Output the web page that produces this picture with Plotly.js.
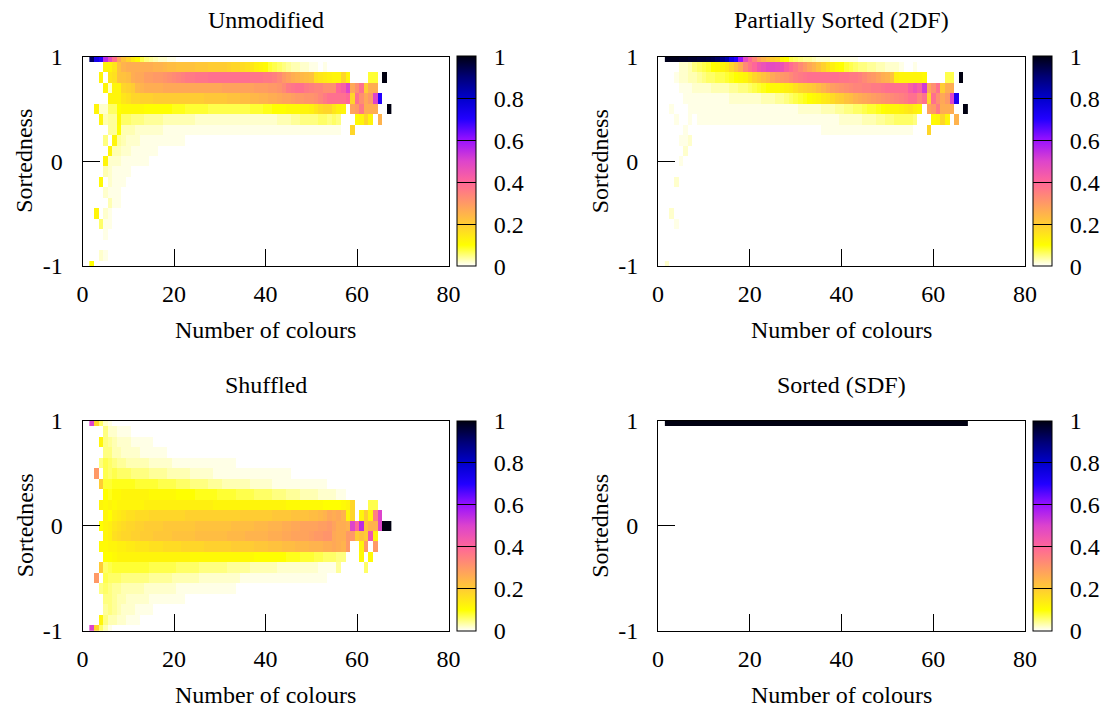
<!DOCTYPE html>
<html>
<head>
<meta charset="utf-8">
<script src="https://cdn.plot.ly/plotly-3.0.1.min.js"></script>
<style>
html,body{margin:0;padding:0;background:#fff;overflow:hidden;width:1111px;height:709px;}
#chart{width:1111px;height:709px;overflow:hidden;}
</style>
</head>
<body>
<div id="chart"></div>
<script>
// ---------------- data ----------------
const numColours = [2,3,4,5,6,7,8,9,10,11,12,13,14,15,16,17,18,19,20,21,22,23,24,25,26,27,28,29,30,31,32,33,34,35,36,37,38,39,40,41,42,43,44,45,46,47,48,49,50,51,52,53,54,55,56,57,58,59,60,61,62,63,64,65,66,67];
// rows listed from sortedness 1.0 (top) down to -1.0 (bottom)
const sortedness = [1.0,0.9,0.8,0.7,0.6,0.5,0.4,0.3,0.2,0.1,0.0,-0.1,-0.2,-0.3,-0.4,-0.5,-0.6,-0.7,-0.8,-0.9,-1.0];
const colourTicks = [0,20,40,60,80];
const sortTicks = [-1,0,1];
const cbTicks = [0,0.2,0.4,0.6,0.8,1];
const cbTickText = ['0','0.2','0.4','0.6','0.8','1'];
const panelTitles = ['Unmodified','Partially Sorted (2DF)','Shuffled','Sorted (SDF)'];
const xTitle = 'Number of colours';
const yTitle = 'Sortedness';

// fraction of runs (percent) per (number of colours, sortedness) bin
const unmodified = [
[92,74,70,55,47,38,28,22,18,14, 11,7,5,4,3,2,2,1,1,0, 0,0,0,0,0,0,0,0,0,0, 0,0,0,0,0,0,0,0,0,0, 0,0,0,0,0,0,0,0,0,0, 0,0,0,0,0,0,0,0,0,0, 0,0,0,0,0,0],
[0,0,0,12,12,15,22,25,26,26, 26,26,26,26,25,25,24,23,23,22, 22,22,22,21,21,21,20,20,20,20, 19,18,18,17,16,15,13,12,11,8, 7,6,5,4,3,3,2,2,1,1, 0,1,0,0,0,0,0,0,0,0, 0,0,0,0,0,0],
[0,0,12,0,15,16,22,22,23,26, 27,27,29,29,30,30,31,32,33,34, 35,36,36,37,37,37,38,38,38,38, 38,38,38,38,38,37,37,37,36,36, 35,33,30,28,26,25,24,23,22,16, 15,14,13,12,12,18,12,0,0,0, 0,8,8,0,100,0],
[0,0,0,12,2,12,12,18,19,20, 24,25,26,26,26,26,27,27,27,27, 27,27,27,27,27,27,27,27,27,28, 28,28,28,28,28,28,29,29,29,30, 30,31,33,36,37,38,38,36,35,34, 34,32,32,32,40,42,50,27,32,38, 20,26,26,0,0,0],
[0,0,0,0,12,12,12,15,16,18, 18,19,19,19,20,20,20,20,20,20, 20,20,20,20,20,21,21,21,21,21, 22,22,22,23,23,24,24,25,25,26, 26,27,28,28,29,30,30,31,31,32, 34,36,38,38,38,38,40,18,38,32, 27,30,50,70,0,0],
[0,12,2,2,6,6,10,11,11,11, 11,11,10,10,10,10,10,10,9,9, 9,8,8,8,8,8,7,7,7,7, 7,7,7,7,7,8,8,8,9,9, 10,10,10,11,11,11,12,12,13,15, 17,18,18,15,13,12,0,28,30,36, 26,26,26,0,0,100],
[0,0,12,3,4,4,11,6,6,5, 5,5,4,4,4,4,3,3,3,3, 3,3,3,2,2,2,2,2,2,2, 2,2,2,2,2,2,2,2,2,2, 2,3,3,3,4,4,5,5,5,5, 6,6,5,6,5,0,0,0,11,12, 18,12,0,25,0,0],
[0,0,0,0,4,4,10,3,3,3, 2,2,2,2,2,2,1,1,1,1, 1,1,1,1,1,1,1,1,1,1, 1,1,1,1,1,1,1,1,1,1, 1,1,1,1,1,1,1,1,1,1, 1,1,1,1,1,0,0,18,0,0, 0,0,0,0,0,0],
[0,0,0,5,0,12,4,3,2,2, 2,1,1,1,1,1,1,1,1,1, 1,0,0,0,0,0,0,0,0,0, 0,0,0,0,0,0,0,0,0,0, 0,0,0,0,0,0,0,0,0,0, 0,0,0,0,0,0,0,0,0,0, 0,0,0,0,0,0],
[0,0,0,0,12,3,3,2,2,1, 1,1,1,1,1,0,0,0,0,0, 0,0,0,0,0,0,0,0,0,0, 0,0,0,0,0,0,0,0,0,0, 0,0,0,0,0,0,0,0,0,0, 0,0,0,0,0,0,0,0,0,0, 0,0,0,0,0,0],
[0,0,0,12,2,2,2,1,1,1, 1,1,1,0,0,0,0,0,0,0, 0,0,0,0,0,0,0,0,0,0, 0,0,0,0,0,0,0,0,0,0, 0,0,0,0,0,0,0,0,0,0, 0,0,0,0,0,0,0,0,0,0, 0,0,0,0,0,0],
[0,0,0,3,2,1,1,1,1,0, 0,0,0,0,0,0,0,0,0,0, 0,0,0,0,0,0,0,0,0,0, 0,0,0,0,0,0,0,0,0,0, 0,0,0,0,0,0,0,0,0,0, 0,0,0,0,0,0,0,0,0,0, 0,0,0,0,0,0],
[0,0,11,0,2,1,1,1,0,0, 0,0,0,0,0,0,0,0,0,0, 0,0,0,0,0,0,0,0,0,0, 0,0,0,0,0,0,0,0,0,0, 0,0,0,0,0,0,0,0,0,0, 0,0,0,0,0,0,0,0,0,0, 0,0,0,0,0,0],
[0,0,0,2,1,1,1,0,0,0, 0,0,0,0,0,0,0,0,0,0, 0,0,0,0,0,0,0,0,0,0, 0,0,0,0,0,0,0,0,0,0, 0,0,0,0,0,0,0,0,0,0, 0,0,0,0,0,0,0,0,0,0, 0,0,0,0,0,0],
[0,0,0,0,3,1,1,0,0,0, 0,0,0,0,0,0,0,0,0,0, 0,0,0,0,0,0,0,0,0,0, 0,0,0,0,0,0,0,0,0,0, 0,0,0,0,0,0,0,0,0,0, 0,0,0,0,0,0,0,0,0,0, 0,0,0,0,0,0],
[0,12,0,2,1,0,0,0,0,0, 0,0,0,0,0,0,0,0,0,0, 0,0,0,0,0,0,0,0,0,0, 0,0,0,0,0,0,0,0,0,0, 0,0,0,0,0,0,0,0,0,0, 0,0,0,0,0,0,0,0,0,0, 0,0,0,0,0,0],
[0,0,6,1,1,0,0,0,0,0, 0,0,0,0,0,0,0,0,0,0, 0,0,0,0,0,0,0,0,0,0, 0,0,0,0,0,0,0,0,0,0, 0,0,0,0,0,0,0,0,0,0, 0,0,0,0,0,0,0,0,0,0, 0,0,0,0,0,0],
[0,0,0,1,0,0,0,0,0,0, 0,0,0,0,0,0,0,0,0,0, 0,0,0,0,0,0,0,0,0,0, 0,0,0,0,0,0,0,0,0,0, 0,0,0,0,0,0,0,0,0,0, 0,0,0,0,0,0,0,0,0,0, 0,0,0,0,0,0],
[0,0,0,0,0,0,0,0,0,0, 0,0,0,0,0,0,0,0,0,0, 0,0,0,0,0,0,0,0,0,0, 0,0,0,0,0,0,0,0,0,0, 0,0,0,0,0,0,0,0,0,0, 0,0,0,0,0,0,0,0,0,0, 0,0,0,0,0,0],
[0,0,2,1,0,0,0,0,0,0, 0,0,0,0,0,0,0,0,0,0, 0,0,0,0,0,0,0,0,0,0, 0,0,0,0,0,0,0,0,0,0, 0,0,0,0,0,0,0,0,0,0, 0,0,0,0,0,0,0,0,0,0, 0,0,0,0,0,0],
[10,0,0,0,0,0,0,0,0,0, 0,0,0,0,0,0,0,0,0,0, 0,0,0,0,0,0,0,0,0,0, 0,0,0,0,0,0,0,0,0,0, 0,0,0,0,0,0,0,0,0,0, 0,0,0,0,0,0,0,0,0,0, 0,0,0,0,0,0]
];

const partiallySorted = [
[99,99,99,98,98,97,97,96,96,95, 94,92,88,84,75,70,60,48,40,34, 28,25,22,20,18,12,10,7,6,5, 4,4,3,2,2,2,1,1,1,1, 1,1,0,0,0,0,0,0,0,0, 0,0,0,0,0,0,0,0,0,0, 0,0,0,0,0,0],
[0,0,0,2,2,3,5,6,7,8, 10,11,12,14,18,22,26,33,37,40, 44,46,48,48,47,46,42,39,36,33, 30,27,25,22,19,16,13,11,10,8, 7,6,5,5,4,4,3,3,2,2, 2,1,0,0,1,0,0,0,0,0, 0,0,0,0,0,0],
[0,0,1,2,2,3,3,4,5,6, 6,7,7,8,9,10,11,12,15,18, 20,22,24,27,29,30,31,33,35,36, 37,38,38,38,38,38,38,38,37,37, 36,36,35,33,31,30,28,26,25,22, 13,12,12,12,12,12,11,0,0,0, 0,7,7,0,100,0],
[0,0,0,1,1,1,2,2,2,2, 3,3,3,3,4,4,5,5,6,7, 8,9,10,11,11,12,13,14,16,18, 19,20,21,23,25,27,29,30,31,32, 33,34,34,35,35,36,36,37,38,38, 38,38,38,42,45,42,52,27,32,38, 20,26,26,0,0,0],
[0,0,0,0,1,1,1,1,1,1, 1,1,1,1,2,2,2,2,2,2, 2,3,3,3,4,4,5,6,7,8, 9,10,11,12,14,15,17,19,20,22, 23,25,26,27,28,29,30,31,32,33, 34,35,36,38,38,34,38,18,38,32, 27,30,50,72,0,0],
[0,1,0,0,0,1,1,1,1,1, 1,1,1,1,1,1,1,1,1,1, 1,1,1,1,1,1,1,1,1,2, 2,2,2,2,3,3,3,4,4,5, 5,6,6,7,8,8,9,10,11,12, 12,13,14,15,13,12,0,28,30,36, 26,26,26,0,0,100],
[0,0,1,0,0,1,0,1,1,1, 1,1,1,1,1,1,1,1,1,1, 1,1,1,1,1,1,1,1,1,1, 1,1,1,1,1,1,1,1,2,2, 2,2,2,3,3,3,4,4,5,5, 6,6,6,6,5,0,0,0,11,12, 18,12,0,25,0,0],
[0,0,0,0,1,0,0,0,0,0, 0,0,0,0,0,0,0,0,0,0, 0,0,0,0,0,0,0,0,0,0, 0,0,0,0,1,1,1,1,1,1, 1,1,1,1,1,1,1,1,1,1, 1,1,1,1,0,0,0,18,0,0, 0,0,0,0,0,0],
[0,0,0,1,1,2,0,0,0,0, 0,0,0,0,0,0,0,0,0,0, 0,0,0,0,0,0,0,0,0,0, 0,0,0,0,0,0,0,0,0,0, 0,0,0,0,0,0,0,0,0,0, 0,0,0,0,0,0,0,0,0,0, 0,0,0,0,0,0],
[0,0,0,0,2,0,0,0,0,0, 0,0,0,0,0,0,0,0,0,0, 0,0,0,0,0,0,0,0,0,0, 0,0,0,0,0,0,0,0,0,0, 0,0,0,0,0,0,0,0,0,0, 0,0,0,0,0,0,0,0,0,0, 0,0,0,0,0,0],
[0,0,0,1,0,0,0,0,0,0, 0,0,0,0,0,0,0,0,0,0, 0,0,0,0,0,0,0,0,0,0, 0,0,0,0,0,0,0,0,0,0, 0,0,0,0,0,0,0,0,0,0, 0,0,0,0,0,0,0,0,0,0, 0,0,0,0,0,0],
[0,0,0,0,0,0,0,0,0,0, 0,0,0,0,0,0,0,0,0,0, 0,0,0,0,0,0,0,0,0,0, 0,0,0,0,0,0,0,0,0,0, 0,0,0,0,0,0,0,0,0,0, 0,0,0,0,0,0,0,0,0,0, 0,0,0,0,0,0],
[0,0,2,0,0,0,0,0,0,0, 0,0,0,0,0,0,0,0,0,0, 0,0,0,0,0,0,0,0,0,0, 0,0,0,0,0,0,0,0,0,0, 0,0,0,0,0,0,0,0,0,0, 0,0,0,0,0,0,0,0,0,0, 0,0,0,0,0,0],
[0,0,0,0,0,0,0,0,0,0, 0,0,0,0,0,0,0,0,0,0, 0,0,0,0,0,0,0,0,0,0, 0,0,0,0,0,0,0,0,0,0, 0,0,0,0,0,0,0,0,0,0, 0,0,0,0,0,0,0,0,0,0, 0,0,0,0,0,0],
[0,0,0,0,0,0,0,0,0,0, 0,0,0,0,0,0,0,0,0,0, 0,0,0,0,0,0,0,0,0,0, 0,0,0,0,0,0,0,0,0,0, 0,0,0,0,0,0,0,0,0,0, 0,0,0,0,0,0,0,0,0,0, 0,0,0,0,0,0],
[0,2,0,0,0,0,0,0,0,0, 0,0,0,0,0,0,0,0,0,0, 0,0,0,0,0,0,0,0,0,0, 0,0,0,0,0,0,0,0,0,0, 0,0,0,0,0,0,0,0,0,0, 0,0,0,0,0,0,0,0,0,0, 0,0,0,0,0,0],
[0,0,1,0,0,0,0,0,0,0, 0,0,0,0,0,0,0,0,0,0, 0,0,0,0,0,0,0,0,0,0, 0,0,0,0,0,0,0,0,0,0, 0,0,0,0,0,0,0,0,0,0, 0,0,0,0,0,0,0,0,0,0, 0,0,0,0,0,0],
[0,0,0,0,0,0,0,0,0,0, 0,0,0,0,0,0,0,0,0,0, 0,0,0,0,0,0,0,0,0,0, 0,0,0,0,0,0,0,0,0,0, 0,0,0,0,0,0,0,0,0,0, 0,0,0,0,0,0,0,0,0,0, 0,0,0,0,0,0],
[0,0,0,0,0,0,0,0,0,0, 0,0,0,0,0,0,0,0,0,0, 0,0,0,0,0,0,0,0,0,0, 0,0,0,0,0,0,0,0,0,0, 0,0,0,0,0,0,0,0,0,0, 0,0,0,0,0,0,0,0,0,0, 0,0,0,0,0,0],
[0,0,0,0,0,0,0,0,0,0, 0,0,0,0,0,0,0,0,0,0, 0,0,0,0,0,0,0,0,0,0, 0,0,0,0,0,0,0,0,0,0, 0,0,0,0,0,0,0,0,0,0, 0,0,0,0,0,0,0,0,0,0, 0,0,0,0,0,0],
[2,0,0,0,0,0,0,0,0,0, 0,0,0,0,0,0,0,0,0,0, 0,0,0,0,0,0,0,0,0,0, 0,0,0,0,0,0,0,0,0,0, 0,0,0,0,0,0,0,0,0,0, 0,0,0,0,0,0,0,0,0,0, 0,0,0,0,0,0]
];

const shuffled = [
[50,18,6,2,1,0,0,0,0,0, 0,0,0,0,0,0,0,0,0,0, 0,0,0,0,0,0,0,0,0,0, 0,0,0,0,0,0,0,0,0,0, 0,0,0,0,0,0,0,0,0,0, 0,0,0,0,0,0,0,0,0,0, 0,0,0,0,0,0],
[0,0,0,5,2,2,1,1,1,0, 0,0,0,0,0,0,0,0,0,0, 0,0,0,0,0,0,0,0,0,0, 0,0,0,0,0,0,0,0,0,0, 0,0,0,0,0,0,0,0,0,0, 0,0,0,0,0,0,0,0,0,0, 0,0,0,0,0,0],
[0,0,12,5,4,3,2,2,2,1, 1,1,1,1,0,0,0,0,0,0, 0,0,0,0,0,0,0,0,0,0, 0,0,0,0,0,0,0,0,0,0, 0,0,0,0,0,0,0,0,0,0, 0,0,0,0,0,0,0,0,0,0, 0,0,0,0,0,0],
[0,0,0,5,5,3,3,2,2,2, 2,1,1,1,1,1,1,0,0,0, 0,0,0,0,0,0,0,0,0,0, 0,0,0,0,0,0,0,0,0,0, 0,0,0,0,0,0,0,0,0,0, 0,0,0,0,0,0,0,0,0,0, 0,0,0,0,0,0],
[0,0,5,7,6,5,4,4,3,3, 3,3,3,2,2,2,2,2,1,1, 1,1,1,1,1,1,1,1,1,1, 1,1,0,0,0,0,0,0,0,0, 0,0,0,0,0,0,0,0,0,0, 0,0,0,0,0,0,0,0,0,0, 0,0,0,0,0,0],
[0,30,0,7,6,7,6,6,6,5, 5,5,5,4,4,4,4,3,3,3, 3,3,2,2,2,2,2,1,1,1, 1,1,1,1,1,1,1,1,1,1, 1,1,1,1,0,0,0,0,0,0, 0,0,0,0,0,0,0,0,0,0, 0,0,0,0,0,0],
[0,0,20,8,8,9,9,9,9,9, 8,8,8,8,8,7,7,7,7,6, 6,6,5,5,5,5,4,4,4,3, 3,3,3,3,3,2,2,2,2,2, 1,1,1,1,1,1,1,1,1,1, 1,1,0,0,0,0,0,0,0,0, 0,0,0,0,0,0],
[0,0,0,10,9,11,11,12,12,12, 12,12,12,11,11,11,11,11,11,10, 10,10,10,9,9,9,9,9,8,8, 8,8,7,7,7,7,6,6,6,6, 5,5,5,4,4,4,3,3,3,3, 2,2,2,2,1,1,0,0,0,0, 0,0,0,0,0,0],
[0,0,12,11,12,11,12,12,12,12, 12,12,13,13,13,13,13,13,13,13, 13,13,13,13,13,13,13,12,12,12, 12,12,12,12,12,12,12,12,12,12, 12,12,12,11,11,11,11,11,11,11, 11,10,10,10,10,11,12,18,0,0, 0,7,7,0,0,0],
[0,0,0,12,10,13,14,15,16,16, 17,17,17,18,18,18,18,18,18,18, 18,19,19,19,19,19,19,19,19,19, 19,19,19,20,20,20,20,20,20,20, 21,21,21,21,22,22,22,22,23,23, 24,25,27,26,27,25,12,18,0,12, 20,12,35,50,0,0],
[0,0,10,12,13,15,16,17,18,18, 19,19,20,20,20,20,21,21,21,21, 21,21,21,22,22,22,22,22,22,22, 22,23,23,23,23,23,24,24,24,25, 25,25,26,26,27,27,28,28,28,28, 29,29,30,28,26,26,25,50,40,55, 22,25,25,50,100,100],
[0,0,0,12,13,16,17,18,18,19, 19,20,20,20,21,21,21,21,22,22, 22,22,22,23,23,23,23,23,23,23, 24,24,24,24,25,25,25,25,25,26, 26,26,27,27,28,28,28,28,29,30, 30,31,31,27,26,26,30,30,20,22, 20,45,12,0,0,0],
[0,0,11,11,12,12,13,13,14,14, 15,15,15,16,16,16,17,17,17,17, 18,18,18,18,18,19,19,19,19,19, 19,20,20,20,20,20,21,21,21,22, 22,22,23,23,23,24,24,24,25,25, 25,26,26,27,26,25,30,0,0,12, 30,0,30,0,0,0],
[0,0,0,10,10,11,12,12,12,12, 12,12,12,12,12,12,12,12,12,12, 12,12,11,11,11,11,11,11,11,11, 11,11,11,11,11,11,10,10,10,10, 10,10,10,9,9,9,8,8,8,7, 7,6,6,6,5,5,0,0,0,11, 0,11,0,0,0,0],
[0,0,20,6,7,8,8,8,8,8, 8,8,8,7,7,7,7,7,7,6, 6,6,6,6,5,5,5,5,5,5, 4,4,4,4,4,3,3,3,3,3, 3,2,2,2,2,2,2,2,2,2, 1,1,1,1,4,0,0,0,0,0, 6,0,0,0,0,0],
[0,30,0,7,6,6,6,5,5,5, 5,5,5,4,4,4,4,4,3,3, 3,3,3,3,2,2,2,2,2,2, 2,2,2,1,1,1,1,1,1,1, 1,1,1,1,1,1,1,1,1,1, 1,1,0,0,0,0,0,0,0,0, 0,0,0,0,0,0],
[0,0,5,6,5,4,4,3,3,3, 3,3,2,2,2,2,2,2,2,1, 1,1,1,1,1,1,1,1,1,1, 1,1,0,0,0,0,0,0,0,0, 0,0,0,0,0,0,0,0,0,0, 0,0,0,0,0,0,0,0,0,0, 0,0,0,0,0,0],
[0,0,0,5,5,4,3,3,2,2, 2,2,2,1,1,1,1,1,1,1, 1,0,0,0,0,0,0,0,0,0, 0,0,0,0,0,0,0,0,0,0, 0,0,0,0,0,0,0,0,0,0, 0,0,0,0,0,0,0,0,0,0, 0,0,0,0,0,0],
[0,0,0,4,5,4,3,2,2,2, 1,1,1,1,0,0,0,0,0,0, 0,0,0,0,0,0,0,0,0,0, 0,0,0,0,0,0,0,0,0,0, 0,0,0,0,0,0,0,0,0,0, 0,0,0,0,0,0,0,0,0,0, 0,0,0,0,0,0],
[0,0,12,5,3,3,2,2,1,1, 1,0,0,0,0,0,0,0,0,0, 0,0,0,0,0,0,0,0,0,0, 0,0,0,0,0,0,0,0,0,0, 0,0,0,0,0,0,0,0,0,0, 0,0,0,0,0,0,0,0,0,0, 0,0,0,0,0,0],
[50,18,6,3,1,0,0,0,0,0, 0,0,0,0,0,0,0,0,0,0, 0,0,0,0,0,0,0,0,0,0, 0,0,0,0,0,0,0,0,0,0, 0,0,0,0,0,0,0,0,0,0, 0,0,0,0,0,0,0,0,0,0, 0,0,0,0,0,0]
];

const sortedSDF = [
[100,100,100,100,100,100,100,100,100,100, 100,100,100,100,100,100,100,100,100,100, 100,100,100,100,100,100,100,100,100,100, 100,100,100,100,100,100,100,100,100,100, 100,100,100,100,100,100,100,100,100,100, 100,100,100,100,100,100,100,100,100,100, 100,100,100,100,100,100],
[0,0,0,0,0,0,0,0,0,0, 0,0,0,0,0,0,0,0,0,0, 0,0,0,0,0,0,0,0,0,0, 0,0,0,0,0,0,0,0,0,0, 0,0,0,0,0,0,0,0,0,0, 0,0,0,0,0,0,0,0,0,0, 0,0,0,0,0,0],
[0,0,0,0,0,0,0,0,0,0, 0,0,0,0,0,0,0,0,0,0, 0,0,0,0,0,0,0,0,0,0, 0,0,0,0,0,0,0,0,0,0, 0,0,0,0,0,0,0,0,0,0, 0,0,0,0,0,0,0,0,0,0, 0,0,0,0,0,0],
[0,0,0,0,0,0,0,0,0,0, 0,0,0,0,0,0,0,0,0,0, 0,0,0,0,0,0,0,0,0,0, 0,0,0,0,0,0,0,0,0,0, 0,0,0,0,0,0,0,0,0,0, 0,0,0,0,0,0,0,0,0,0, 0,0,0,0,0,0],
[0,0,0,0,0,0,0,0,0,0, 0,0,0,0,0,0,0,0,0,0, 0,0,0,0,0,0,0,0,0,0, 0,0,0,0,0,0,0,0,0,0, 0,0,0,0,0,0,0,0,0,0, 0,0,0,0,0,0,0,0,0,0, 0,0,0,0,0,0],
[0,0,0,0,0,0,0,0,0,0, 0,0,0,0,0,0,0,0,0,0, 0,0,0,0,0,0,0,0,0,0, 0,0,0,0,0,0,0,0,0,0, 0,0,0,0,0,0,0,0,0,0, 0,0,0,0,0,0,0,0,0,0, 0,0,0,0,0,0],
[0,0,0,0,0,0,0,0,0,0, 0,0,0,0,0,0,0,0,0,0, 0,0,0,0,0,0,0,0,0,0, 0,0,0,0,0,0,0,0,0,0, 0,0,0,0,0,0,0,0,0,0, 0,0,0,0,0,0,0,0,0,0, 0,0,0,0,0,0],
[0,0,0,0,0,0,0,0,0,0, 0,0,0,0,0,0,0,0,0,0, 0,0,0,0,0,0,0,0,0,0, 0,0,0,0,0,0,0,0,0,0, 0,0,0,0,0,0,0,0,0,0, 0,0,0,0,0,0,0,0,0,0, 0,0,0,0,0,0],
[0,0,0,0,0,0,0,0,0,0, 0,0,0,0,0,0,0,0,0,0, 0,0,0,0,0,0,0,0,0,0, 0,0,0,0,0,0,0,0,0,0, 0,0,0,0,0,0,0,0,0,0, 0,0,0,0,0,0,0,0,0,0, 0,0,0,0,0,0],
[0,0,0,0,0,0,0,0,0,0, 0,0,0,0,0,0,0,0,0,0, 0,0,0,0,0,0,0,0,0,0, 0,0,0,0,0,0,0,0,0,0, 0,0,0,0,0,0,0,0,0,0, 0,0,0,0,0,0,0,0,0,0, 0,0,0,0,0,0],
[0,0,0,0,0,0,0,0,0,0, 0,0,0,0,0,0,0,0,0,0, 0,0,0,0,0,0,0,0,0,0, 0,0,0,0,0,0,0,0,0,0, 0,0,0,0,0,0,0,0,0,0, 0,0,0,0,0,0,0,0,0,0, 0,0,0,0,0,0],
[0,0,0,0,0,0,0,0,0,0, 0,0,0,0,0,0,0,0,0,0, 0,0,0,0,0,0,0,0,0,0, 0,0,0,0,0,0,0,0,0,0, 0,0,0,0,0,0,0,0,0,0, 0,0,0,0,0,0,0,0,0,0, 0,0,0,0,0,0],
[0,0,0,0,0,0,0,0,0,0, 0,0,0,0,0,0,0,0,0,0, 0,0,0,0,0,0,0,0,0,0, 0,0,0,0,0,0,0,0,0,0, 0,0,0,0,0,0,0,0,0,0, 0,0,0,0,0,0,0,0,0,0, 0,0,0,0,0,0],
[0,0,0,0,0,0,0,0,0,0, 0,0,0,0,0,0,0,0,0,0, 0,0,0,0,0,0,0,0,0,0, 0,0,0,0,0,0,0,0,0,0, 0,0,0,0,0,0,0,0,0,0, 0,0,0,0,0,0,0,0,0,0, 0,0,0,0,0,0],
[0,0,0,0,0,0,0,0,0,0, 0,0,0,0,0,0,0,0,0,0, 0,0,0,0,0,0,0,0,0,0, 0,0,0,0,0,0,0,0,0,0, 0,0,0,0,0,0,0,0,0,0, 0,0,0,0,0,0,0,0,0,0, 0,0,0,0,0,0],
[0,0,0,0,0,0,0,0,0,0, 0,0,0,0,0,0,0,0,0,0, 0,0,0,0,0,0,0,0,0,0, 0,0,0,0,0,0,0,0,0,0, 0,0,0,0,0,0,0,0,0,0, 0,0,0,0,0,0,0,0,0,0, 0,0,0,0,0,0],
[0,0,0,0,0,0,0,0,0,0, 0,0,0,0,0,0,0,0,0,0, 0,0,0,0,0,0,0,0,0,0, 0,0,0,0,0,0,0,0,0,0, 0,0,0,0,0,0,0,0,0,0, 0,0,0,0,0,0,0,0,0,0, 0,0,0,0,0,0],
[0,0,0,0,0,0,0,0,0,0, 0,0,0,0,0,0,0,0,0,0, 0,0,0,0,0,0,0,0,0,0, 0,0,0,0,0,0,0,0,0,0, 0,0,0,0,0,0,0,0,0,0, 0,0,0,0,0,0,0,0,0,0, 0,0,0,0,0,0],
[0,0,0,0,0,0,0,0,0,0, 0,0,0,0,0,0,0,0,0,0, 0,0,0,0,0,0,0,0,0,0, 0,0,0,0,0,0,0,0,0,0, 0,0,0,0,0,0,0,0,0,0, 0,0,0,0,0,0,0,0,0,0, 0,0,0,0,0,0],
[0,0,0,0,0,0,0,0,0,0, 0,0,0,0,0,0,0,0,0,0, 0,0,0,0,0,0,0,0,0,0, 0,0,0,0,0,0,0,0,0,0, 0,0,0,0,0,0,0,0,0,0, 0,0,0,0,0,0,0,0,0,0, 0,0,0,0,0,0],
[0,0,0,0,0,0,0,0,0,0, 0,0,0,0,0,0,0,0,0,0, 0,0,0,0,0,0,0,0,0,0, 0,0,0,0,0,0,0,0,0,0, 0,0,0,0,0,0,0,0,0,0, 0,0,0,0,0,0,0,0,0,0, 0,0,0,0,0,0]
];

// ---------------- styling ----------------
const W = 1111, H = 709;
const FONT = '"Liberation Serif", "DejaVu Serif", serif';
const FS = 24;
const palette = [[0,'#ffffff'],[0.1,'#ffff00'],[0.2,'#ffcc33'],[0.3,'#ff9966'],[0.4,'#ff6699'],
  [0.5,'#dd44cc'],[0.6,'#9911ff'],[0.7,'#2200ff'],[0.8,'#0000cc'],[0.9,'#000077'],[1,'#000011']];

// panel geometry in pixels: [left, right, top, bottom], colour bar left edge
const panels = [
  {px:[82.5,448.5,56.5,266], cb:457.3},
  {px:[658,1025,56.5,266], cb:1033.3},
  {px:[82.5,448.5,421,630.7], cb:457.3},
  {px:[658,1025,421,630.7], cb:1033.3}
];
const matrices = [unmodified, partiallySorted, shuffled, sortedSDF];

matrices.forEach((m,i)=>{
  if(m.length!==sortedness.length) throw new Error('rows '+i);
  m.forEach((r,j)=>{ if(r.length!==numColours.length) throw new Error('panel '+i+' row '+j+' len '+r.length); });
});

const nb = '\u00a0\u00a0';
const traces = [];
const layout = {
  width: W, height: H, autosize:false,
  margin:{l:0,r:0,t:0,b:0,pad:0,autoexpand:false},
  paper_bgcolor:'#fff', plot_bgcolor:'#fff',
  showlegend:false, hovermode:false,
  font:{family:FONT, size:FS, color:'#000'},
  annotations:[]
};

panels.forEach((p,i)=>{
  const ax = i===0 ? '' : String(i+1);
  const [l,r,t,b] = p.px;
  traces.push({
    type:'heatmap',
    x: numColours,
    y: sortedness,
    z: matrices[i].map(row=>row.map(v=>v/100)),
    xaxis:'x'+ax, yaxis:'y'+ax,
    colorscale: palette, zmin:0, zmax:1, zsmooth:false,
    hoverinfo:'skip',
    showscale:true,
    colorbar:{
      x: p.cb/W, xanchor:'left', xpad:0, ypad:0,
      y: 1-((t+b)/2)/H, yanchor:'middle',
      len: (b-t)/H, lenmode:'fraction',
      thickness:19, thicknessmode:'pixels',
      outlinewidth:1, outlinecolor:'#000',
      tickmode:'array', tickvals: cbTicks, ticktext: cbTickText.map(s=>nb+s),
      ticks:'inside', ticklen:19, tickwidth:1, tickcolor:'#000',
      tickfont:{family:FONT, size:FS, color:'#000'}
    }
  });
  const common = {
    showline:true, mirror:true, linecolor:'#000', linewidth:1,
    showgrid:false, zeroline:false,
    ticks:'inside', ticklen:17, tickwidth:1, tickcolor:'#000',
    tickfont:{family:FONT, size:FS, color:'#000'},
    fixedrange:true, automargin:false
  };
  layout['xaxis'+ax] = Object.assign({}, common, {
    domain:[l/W, r/W], anchor:'y'+ax, range:[0,80],
    tickmode:'array', tickvals: colourTicks, ticktext: colourTicks.map(String),
    ticklabelstandoff: 6
  });
  layout['yaxis'+ax] = Object.assign({}, common, {
    domain:[1-b/H, 1-t/H], anchor:'x'+ax, range:[-1,1],
    tickmode:'array', tickvals: sortTicks, ticktext: sortTicks.map(String),
    ticklabelstandoff: 14
  });
  const cx = (l+r)/2;
  layout.annotations.push(
    {text: panelTitles[i], xref:'paper', yref:'paper', x: cx/W, y: 1-(t-36)/H,
     xanchor:'center', yanchor:'middle', showarrow:false, font:{family:FONT,size:FS,color:'#000'}},
    {text: xTitle, xref:'paper', yref:'paper', x: cx/W, y: 1-(b+64)/H,
     xanchor:'center', yanchor:'middle', showarrow:false, font:{family:FONT,size:FS,color:'#000'}},
    {text: yTitle, xref:'paper', yref:'paper', x: (l-58)/W, y: 1-((t+b)/2)/H, textangle:-90,
     xanchor:'center', yanchor:'middle', showarrow:false, font:{family:FONT,size:FS,color:'#000'}}
  );
});

Plotly.newPlot('chart', traces, layout, {staticPlot:true, displayModeBar:false});
</script>
</body>
</html>
